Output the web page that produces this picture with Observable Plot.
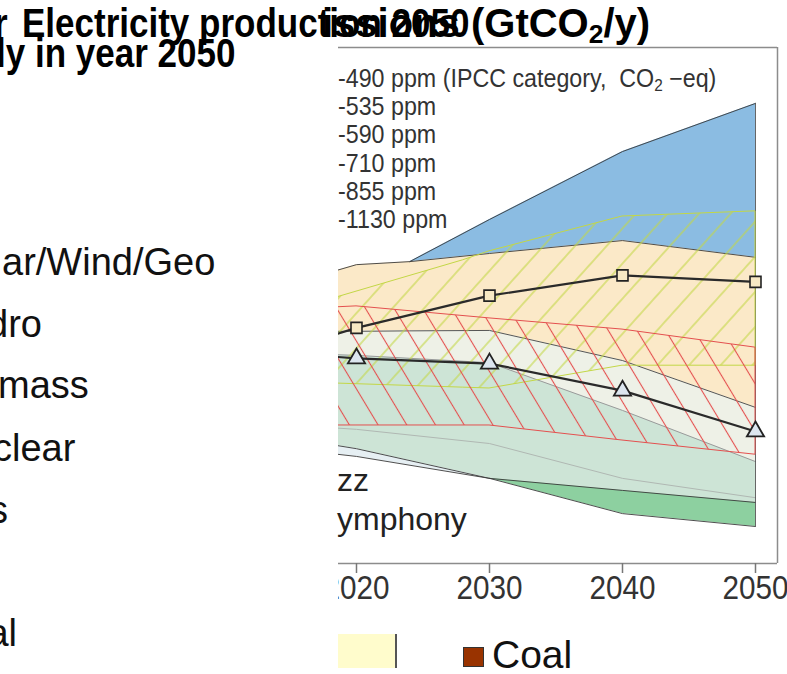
<!DOCTYPE html>
<html>
<head>
<meta charset="utf-8">
<script src="https://cdn.jsdelivr.net/npm/d3@7"></script>
<script src="https://cdn.jsdelivr.net/npm/@observablehq/plot@0.6"></script>
<style>
  html, body { margin: 0; padding: 0; background: #fff; }
  #page { position: relative; width: 787px; height: 674px; overflow: hidden; font-family: "Liberation Sans", Arial, sans-serif; background: #fff; }
  #chart { position: absolute; left: 338px; top: 0; }
  .t { position: absolute; white-space: pre; line-height: 1; transform-origin: 0 0; }
  .sw { position: absolute; }
</style>
</head>
<body>
<div id="page"><div id="chart"></div></div>
<script>
// ---------- data (GtCO2/y) ----------
const xTicks = [2020, 2030, 2040, 2050];

const blueBand = [
  {year: 2024, lo: 70.2, hi: 70.2},
  {year: 2030, lo: 72.1, hi: 80.0},
  {year: 2040, lo: 75.1, hi: 95.8},
  {year: 2050, lo: 71.2, hi: 107.0}
];
const tanBand = [
  {year: 2018, lo: 54.0, hi: 67.7},
  {year: 2020, lo: 54.0, hi: 69.5},
  {year: 2024, lo: 54.1, hi: 70.2},
  {year: 2030, lo: 54.2, hi: 72.1},
  {year: 2040, lo: 47.2, hi: 75.1},
  {year: 2050, lo: 36.3, hi: 71.2}
];
const lightBand = [
  {year: 2018, lo: 48.6, hi: 54.0},
  {year: 2020, lo: 48.4, hi: 54.0},
  {year: 2030, lo: 46.7, hi: 54.2},
  {year: 2040, lo: 35.6, hi: 47.2},
  {year: 2050, lo: 23.7, hi: 36.3}
];
const mintBand = [
  {year: 2018, lo: 27.7, hi: 48.6},
  {year: 2020, lo: 26.7, hi: 48.4},
  {year: 2030, lo: 19.8, hi: 46.7},
  {year: 2040, lo: 17.0, hi: 35.6},
  {year: 2050, lo: 14.2, hi: 23.7}
];
const mintDivider = [
  {year: 2018, v: 31.6}, {year: 2020, v: 31.2}, {year: 2030, v: 27.9},
  {year: 2040, v: 19.8}, {year: 2050, v: 15.3}
];
const paleBand = [
  {year: 2018, lo: 25.6, hi: 27.7},
  {year: 2020, lo: 24.9, hi: 26.7},
  {year: 2030, lo: 19.8, hi: 19.8}
];
const greenBand = [
  {year: 2030, lo: 19.8, hi: 19.8},
  {year: 2040, lo: 11.6, hi: 17.0},
  {year: 2050, lo: 8.6, hi: 14.2}
];
const hatchGreenBand = [
  {year: 2018, lo: 41.9, hi: 61.4},
  {year: 2028, lo: 40.9, hi: 70.5},
  {year: 2030, lo: 40.7, hi: 72.6},
  {year: 2040, lo: 46.0, hi: 80.7},
  {year: 2050, lo: 46.0, hi: 81.9}
];
const hatchRedBand = [
  {year: 2018, lo: 32.1, hi: 59.5},
  {year: 2020, lo: 32.1, hi: 59.8},
  {year: 2030, lo: 32.1, hi: 57.0},
  {year: 2040, lo: 28.6, hi: 54.4},
  {year: 2050, lo: 25.3, hi: 50.2}
];
const squareSeries = [
  {year: 2010, v: 45.0}, {year: 2020, v: 54.8}, {year: 2030, v: 62.3},
  {year: 2040, v: 67.0}, {year: 2050, v: 65.5}
];
const triangleSeries = [
  {year: 2010, v: 50.0}, {year: 2020, v: 47.7}, {year: 2030, v: 46.5},
  {year: 2040, v: 40.2}, {year: 2050, v: 30.7}
];

const ppmLabels = ["-490 ppm (IPCC category,  CO2 \u2212eq)", "-535 ppm", "-590 ppm", "-710 ppm", "-855 ppm", "-1130 ppm"];
const sourceLabels = ["ar/Wind/Geo", "dro", "mass", "clear", "s", "al"];
const musicLabels = ["zz", "ymphony"];
const titleLeft1 = "Electricity production 2050";
const titleLeft2 = "ly in year 2050";
const titleRight = "issions (GtCO2/y)";
const bottomLegend = ["Coal"];

// ---------- chart ----------
const HATCH_G = "#010203", HATCH_R = "#030201";
const lineC = "#3a3a3a";
const chart = Plot.plot({
  width: 449, height: 620,
  marginLeft: 0, marginRight: 10, marginTop: 47, marginBottom: 57,
  x: {domain: [2018.647, 2051.654]},
  y: {domain: [0, 120], axis: null},
  style: {fontFamily: "Liberation Sans, Arial, sans-serif", background: "transparent", overflow: "hidden"},
  marks: [
    Plot.areaY(tanBand, {x: "year", y1: "lo", y2: "hi", fill: "#fbe9c8", clip: true}),
    Plot.areaY(blueBand, {x: "year", y1: "lo", y2: "hi", fill: "#8bbce2", clip: true}),
    Plot.areaY(lightBand, {x: "year", y1: "lo", y2: "hi", fill: "#eef1e7", clip: true}),
    Plot.areaY(mintBand, {x: "year", y1: "lo", y2: "hi", fill: "#cde4d6", clip: true}),
    Plot.areaY(paleBand, {x: "year", y1: "lo", y2: "hi", fill: "#e6eff3", clip: true}),
    Plot.areaY(greenBand, {x: "year", y1: "lo", y2: "hi", fill: "#8dd0a0", clip: true}),
    Plot.line(blueBand, {x: "year", y: "hi", stroke: lineC, strokeWidth: 0.9, clip: true}),
    Plot.line(tanBand, {x: "year", y: "hi", stroke: lineC, strokeWidth: 0.9, clip: true}),
    Plot.line(tanBand, {x: "year", y: "lo", stroke: "#444", strokeWidth: 0.9, clip: true}),
    Plot.line(lightBand, {x: "year", y: "lo", stroke: "#9a9a9a", strokeWidth: 1, clip: true}),
    Plot.line(mintDivider, {x: "year", y: "v", stroke: "#b0b8b3", strokeWidth: 1, clip: true}),
    Plot.line(mintBand, {x: "year", y: "lo", stroke: lineC, strokeWidth: 0.9, clip: true}),
    Plot.line(paleBand, {x: "year", y: "lo", stroke: lineC, strokeWidth: 0.9, clip: true}),
    Plot.line(greenBand, {x: "year", y: "lo", stroke: lineC, strokeWidth: 0.9, clip: true}),
    Plot.ruleX([2050], {y1: 8.6, y2: 107.0, stroke: "#555", strokeWidth: 0.9}),
    Plot.areaY(hatchGreenBand, {x: "year", y1: "lo", y2: "hi", fill: HATCH_G, stroke: "#c3d746", strokeWidth: 1, clip: true}),
    Plot.areaY(hatchRedBand, {x: "year", y1: "lo", y2: "hi", fill: HATCH_R, stroke: "#e4504f", strokeWidth: 1, clip: true}),
    Plot.line(squareSeries, {x: "year", y: "v", stroke: "#2a2a2a", strokeWidth: 2.2, clip: true}),
    Plot.line(triangleSeries, {x: "year", y: "v", stroke: "#2a2a2a", strokeWidth: 2.2, clip: true}),
    Plot.dot(squareSeries, {x: "year", y: "v", symbol: "square", r: 6.2, fill: "#f7e9c4", stroke: "#222", strokeWidth: 1.6, clip: true}),
    Plot.dot(triangleSeries, {x: "year", y: "v", symbol: "triangle", r: 6.4, fill: "#dce6ef", stroke: "#222", strokeWidth: 1.8, clip: true}),
    Plot.ruleY([0, 120], {stroke: "#8c8c8c", strokeWidth: 1.5}),
    Plot.ruleX([2051.654], {y1: 0, y2: 120, stroke: "#8c8c8c", strokeWidth: 1.5}),
    Plot.axisX({ticks: xTicks, tickFormat: "d", tickSize: 10, tickPadding: 2, fontSize: 33, stroke: "#777", strokeWidth: 1.5, fill: "#333", label: null})
  ]
});
const svgEl = chart.tagName.toLowerCase() === "svg" ? chart : chart.querySelector("svg");
document.getElementById("chart").appendChild(chart);

// hatch patterns
const defs = d3.select(svgEl).insert("defs", ":first-child");
function hatch(id, color, angle, gap, w) {
  const p = defs.append("pattern").attr("id", id)
    .attr("patternUnits", "userSpaceOnUse")
    .attr("width", gap).attr("height", gap)
    .attr("patternTransform", `rotate(${angle})`);
  p.append("line").attr("x1", gap / 2).attr("y1", -1).attr("x2", gap / 2).attr("y2", gap + 1)
    .attr("stroke", color).attr("stroke-width", w);
}
hatch("hatchG", "#c3d746", 42, 23.5, 1.1);
hatch("hatchR", "#e4504f", -31, 24.6, 1.1);
svgEl.querySelectorAll("[fill]").forEach(el => {
  const f = (el.getAttribute("fill") || "").toLowerCase();
  if (f === HATCH_G) el.setAttribute("fill", "url(#hatchG)");
  if (f === HATCH_R) el.setAttribute("fill", "url(#hatchR)");
});
// slightly narrow tick labels
svgEl.querySelectorAll('g[aria-label="x-axis tick label"] text').forEach(t => {
  const tr = t.getAttribute("transform");
  if (tr) t.setAttribute("transform", tr + " scale(0.9,1)");
});

// ---------- texts ----------
const page = document.getElementById("page");
function addText(html, left, baseline, size, opts = {}) {
  const d = document.createElement("div");
  d.className = "t";
  d.innerHTML = html;
  d.style.left = left + "px";
  d.style.top = (baseline - 0.8465 * size) + "px";
  d.style.fontSize = size + "px";
  d.style.fontWeight = opts.weight || "normal";
  d.style.color = opts.color || "#111";
  if (opts.sx) d.style.transform = `scaleX(${opts.sx})`;
  page.appendChild(d);
  return d;
}
const sub = s => s.replace("CO2", 'CO<span style="font-size:0.66em;vertical-align:-0.22em">2</span>');

// chart legend (ppm categories)
ppmLabels.forEach((s, i) => addText(sub(s), 338, 87 + i * 28.3, 25, {color: "#333", sx: 0.93}));
// music legend fragments
musicLabels.forEach((s, i) => addText(s, 337, 491 + i * 39, 32, {color: "#222"}));
// left legend fragments
const srcLeft = [2, -13, -2, -7, -11, -12.6];
const srcBase = [275, 337, 398, 461, 523, 646];
sourceLabels.forEach((s, i) => addText(s, srcLeft[i], srcBase[i], 38, {color: "#111"}));
// titles
addText(sub(titleRight), 322, 37, 40, {weight: "bold", color: "#000"});
addText("r", -6, 37, 40, {weight: "bold", color: "#000", sx: 0.875});
addText(titleLeft1, 22, 37, 40, {weight: "bold", color: "#000", sx: 0.875});
addText(titleLeft2, -4, 67, 40, {weight: "bold", color: "#000", sx: 0.875});

// bottom legend
function box(left, top, w, h, bg, border) {
  const d = document.createElement("div");
  d.className = "sw";
  Object.assign(d.style, {left: left + "px", top: top + "px", width: w + "px", height: h + "px", background: bg});
  if (border) d.style.border = border;
  page.appendChild(d);
}
box(338, 634, 57, 34, "#fffccc");
box(395, 634, 2, 34, "#555");
box(463, 647, 19, 18, "#993300", "1px solid #333");
addText(bottomLegend[0], 492, 668, 39, {color: "#111"});
</script>
</body>
</html>
